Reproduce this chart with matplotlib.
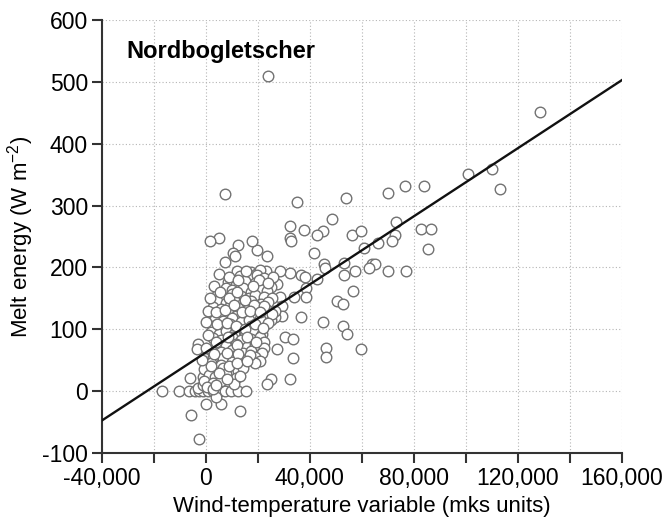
import matplotlib
matplotlib.use("Agg")
import matplotlib.pyplot as plt
import numpy as np

plt.rcParams['font.family'] = ['Liberation Sans', 'DejaVu Sans']
plt.rcParams['mathtext.default'] = 'regular'

# scattered points away from the main cluster
sparse_x = [23944, 128740, 101024, 110044, 113000, 76588, 83804, 70028, 53792, 34932,
            7544, 48544, 72980, 32472, 32472, 32800, 37720, 45100, 42800, 56252,
            59532, 82656, 86600, 72652, 71668, 66092, 85476, 60844, 41492, 45428,
            45920, 53300, 64000, 65200, 62648, 57560, 70192, 77080, 42800, 53300,
            56580, 50350, 52972, 52972, 54136, 45100, 46412, 46412, 59860, 36572,
            30600, 33620, 33620, 27552, 32472, 25000, 23500, 36500, 38000, 38500,
            38500, 32500, 33784, 28372, 27552, 28372, 29192, 29192, 26700, 25000,
            23450, 19844, 17700, 12464, 10300, 11150, 7544, 5084, 1800, 23124, 24600]
sparse_y = [509, 451, 351, 359, 326, 332, 332, 320, 312, 306,
            318, 278, 273, 267, 247, 242, 261, 259, 252, 252,
            259, 262, 262, 252, 242, 240, 229, 231, 224, 206,
            199, 207, 206, 206, 199, 194, 194, 194, 182, 188,
            162, 146, 141, 105, 92, 111, 70, 56, 68, 120,
            87, 85, 53, 68, 20, 19, 12, 187, 184, 167,
            152, 191, 152, 195, 174, 153, 137, 121, 120, 115,
            218, 228, 242, 236, 223, 218, 208, 248, 242, 194, 178]

# points near and below zero
low_x = [-16800, -10270, -6420, -4230, -2560, -1020, 900, 2820, 5380, 7310, 9880, 12440, 15640,
         -5510, -2560, 260, 5770, 4100, 13330, -5900, 1900, -2800, -3200, -1148, 3000, -3000, -1000]
low_y = [0, 0, 0, 0, 0, 0, 0, 0, 0, 0, 0, 0, 0,
         -39, -77, -20, -20, -9, -32, 22, 16, 77, 68, 23, 36, 5, 10]

# dense cluster between 0 and 25,000
cluster_x = [12000, 17500, 19200, 21000,
             13000, 16300, 19900, 22400, 26000,
             8400, 11700, 15000, 19100, 22000, 25200,
             7600, 10100, 14200, 17500, 20700, 23700,
             4300, 6800, 10100, 13400, 16600, 19100, 22400, 25600,
             4300, 7600, 10900, 14500, 17500, 21100, 24000,
             2700, 6000, 9300, 12500, 15800, 19100, 23200, 26500,
             2700, 5200, 8400, 11700, 15000, 19100, 22400, 25500,
             3500, 6800, 10100, 13400, 16600, 20700, 24000,
             2700, 6000, 9300, 12500, 17500, 20700,
             1900, 5200, 7600, 10900, 15000, 18300, 21600,
             2700, 6000, 10100, 13400, 17500, 20700, 22400,
             4300, 7600, 11700, 15800, 19100, 22400,
             1900, 5700, 10100, 14200, 17500, 21600,
             2700, 6800, 10900, 15800, 19100, 21000,
             1900, 6000, 10100, 14200, 19100,
             -600, 2700, 6800, 12500, 14200,
             1100, 3500, 7600, 11700,
             -600, 2700, 6000, 10900,
             300, 2700,
             5000, 9000, 15500, 20500, 3000, 12500, 18000, 24000, 1500, 5500,
             9000, 12000, 15000, 18500, 22500, 1000, 4000, 7500, 11000, 14000,
             17000, 21000, 0, 4500, 8000, 11500, 15000, 19000, 22000, 1000,
             4000, 8500, 12000, 16000, 19500, 0, 3000, 8000, 12500, 17000,
             2000, 5000, 9000, 12000, 16000, -1500, 4000, 8000, 13000]
cluster_y = [195, 193, 190, 196,
             186, 184, 187, 183, 185,
             176, 172, 178, 175, 171, 168,
             166, 163, 167, 161, 165, 162,
             156, 152, 157, 154, 150, 156, 153, 150,
             145, 142, 147, 143, 146, 141, 144,
             136, 133, 138, 134, 131, 137, 133, 130,
             126, 123, 127, 121, 125, 122, 127, 124,
             116, 113, 118, 112, 115, 117, 110,
             106, 103, 108, 102, 105, 100,
             96, 93, 97, 92, 95, 98, 93,
             86, 83, 87, 82, 85, 88, 80,
             76, 73, 77, 72, 75, 70,
             66, 63, 67, 62, 65, 61,
             56, 53, 57, 52, 55, 48,
             46, 43, 47, 42, 45,
             36, 33, 37, 32, 38,
             26, 23, 27, 22,
             16, 13, 17, 12,
             6, 4,
             190, 185, 195, 180, 170, 180, 170, 175, 150, 160,
             150, 160, 148, 140, 138, 130, 128, 132, 140, 128,
             130, 128, 112, 108, 110, 105, 100, 108, 102, 90,
             80, 88, 75, 88, 80, 70, 60, 62, 60, 58,
             40, 30, 40, 45, 48, 50, 10, 20, 25]

# regression line end points
line_x = [-40000, 160000]
line_y = [-47.5, 502.5]

wind_temp = np.array(sparse_x + low_x + cluster_x)
melt_energy = np.array(sparse_y + low_y + cluster_y)

fig = plt.figure(figsize=(6.65, 5.22), dpi=100)
ax = fig.add_axes([0.153, 0.132, 0.782, 0.830])

ax.scatter(wind_temp, melt_energy, s=58, facecolors='white', edgecolors='#727272',
           linewidths=1.0, zorder=3)
ax.plot(line_x, line_y, color='#111111', lw=1.7, zorder=4)

ax.set_xlim(-40000, 160000)
ax.set_ylim(-100, 600)

xticks = np.arange(-40000, 160001, 20000)
ax.set_xticks(xticks)
ax.set_xticklabels([f"{v:,}" if v % 40000 == 0 else "" for v in xticks])
yticks = np.arange(-100, 601, 100)
ax.set_yticks(yticks)
ax.set_yticklabels([str(v) for v in yticks])

ax.grid(True, linestyle=(0, (1, 2)), color='#b5b5b5', lw=0.8, zorder=0)
for side in ['top', 'right']:
    ax.spines[side].set_visible(False)
for side in ['left', 'bottom']:
    ax.spines[side].set_color('#333333')
    ax.spines[side].set_linewidth(1.5)
ax.tick_params(direction='out', length=7, width=1.5, color='#333333',
               labelsize=16.5, pad=3)

ax.set_xlabel("Wind-temperature variable (mks units)", fontsize=16, labelpad=4)
ax.set_ylabel("Melt energy (W m$^{-2}$)", fontsize=16, labelpad=4)
ax.text(-30500, 549, "Nordbogletscher", fontsize=17, fontweight='bold', va='center')

fig.savefig("out.png", dpi=100)
